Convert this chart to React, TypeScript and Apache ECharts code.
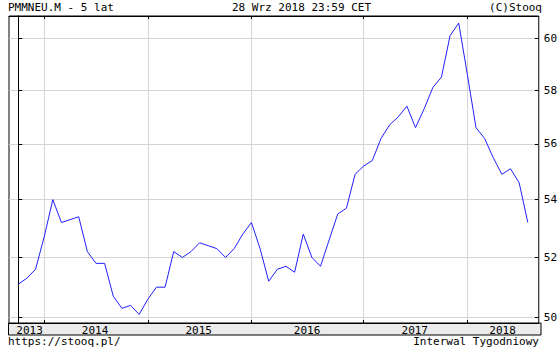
import React, { useEffect, useRef } from "react";
import * as echarts from "echarts";

// Monthly PMI values (one point per period, left to right)
const values = [
  51.1, 51.3, 51.6, 52.7, 54.0, 53.2, 53.3, 53.4, 52.2, 51.8,
  51.8, 50.7, 50.3, 50.4, 50.1, 50.6, 51.0, 51.0, 52.2, 52.0,
  52.2, 52.5, 52.4, 52.3, 52.0, 52.3, 52.8, 53.2, 52.3, 51.2,
  51.6, 51.7, 51.5, 52.8, 52.0, 51.7, 52.6, 53.5, 53.7, 54.9,
  55.2, 55.4, 56.2, 56.7, 57.0, 57.4, 56.6, 57.3, 58.1, 58.5,
  60.1, 60.6, 58.6, 56.6, 56.2, 55.5, 54.9, 55.1, 54.6, 53.2,
];

// Year boundaries (point index where each new year starts)
const yearTicks = [3, 15, 27, 40, 52];
// Year labels and their positions (in point-index units)
const yearLabels = ["2013", "2014", "2015", "2016", "2017", "2018"];
const yearLabelPos = [1.31, 8.9, 20.89, 33.44, 45.91, 56.08];

// Y tick labels (log scale)
const yTicks = [50, 52, 54, 56, 58, 60];

const FONT = "DejaVu Sans Mono";

export default function App() {
  const ref = useRef<HTMLDivElement>(null);
  useEffect(() => {
    if (!ref.current) return;
    const chart = echarts.init(ref.current, null, { renderer: "svg" });
    const xMin = -1.072;
    const xMax = 60.268;
    const yMax = Math.log(60) + 22.3 / 1531.4;
    const yMin = yMax - 307 / 1531.4;
    const lnTicks = yTicks.map((v) => Math.log(v));
    const fmtY = (v: number) => String(Math.round(Math.exp(v)));
    const fmtX = (v: number) => {
      let best = 0;
      let d = Infinity;
      yearLabelPos.forEach((p, i) => {
        if (Math.abs(p - v) < d) {
          d = Math.abs(p - v);
          best = i;
        }
      });
      return yearLabels[best];
    };
    const grey = "#d4d4d4";
    chart.setOption({
      animation: false,
      backgroundColor: "#ffffff",
      grid: {
        left: 9,
        top: 16,
        width: 532,
        height: 307,
        show: true,
        borderColor: "#000",
        borderWidth: 1,
        backgroundColor: "#fff",
      },
      graphic: [
        {
          type: "rect",
          z: -10,
          shape: { x: 8.5, y: 323, width: 532.5, height: 12 },
          style: { fill: "#ebebeb", stroke: "#000", lineWidth: 1 },
        },
        {
          type: "text",
          x: 8,
          y: 7.5,
          style: { text: "PMMNEU.M - 5 lat", font: `11px '${FONT}'`, fill: "#000", textAlign: "left", textVerticalAlign: "middle", align: "left", verticalAlign: "middle" },
        },
        {
          type: "text",
          x: 232,
          y: 7.5,
          style: { text: "28 Wrz 2018 23:59 CET", font: `11px '${FONT}'`, fill: "#000", textAlign: "left", textVerticalAlign: "middle", align: "left", verticalAlign: "middle" },
        },
        {
          type: "text",
          x: 542,
          y: 7.5,
          style: { text: "(C)Stooq", font: `11px '${FONT}'`, fill: "#000", textAlign: "right", textVerticalAlign: "middle", align: "right", verticalAlign: "middle" },
        },
        {
          type: "text",
          x: 8,
          y: 341.5,
          style: { text: "https://stooq.pl/", font: `11px '${FONT}'`, fill: "#000", textAlign: "left", textVerticalAlign: "middle", align: "left", verticalAlign: "middle" },
        },
        {
          type: "text",
          x: 539,
          y: 341.5,
          style: { text: "Interwal Tygodniowy", font: `11px '${FONT}'`, fill: "#000", textAlign: "right", textVerticalAlign: "middle", align: "right", verticalAlign: "middle" },
        },
      ],
      xAxis: [
        {
          type: "value",
          position: "bottom",
          min: xMin,
          max: xMax,
          axisLine: { show: true, lineStyle: { color: "#000", width: 1 } },
          axisTick: { show: true, inside: true, length: 3, customValues: yearTicks, lineStyle: { color: "#000" } },
          splitLine: { show: true, lineStyle: { color: grey, width: 1 } },
          axisLabel: {
            show: true,
            customValues: yearLabelPos,
            formatter: fmtX,
            margin: 7,
            verticalAlign: "middle",
            fontFamily: FONT,
            fontSize: 11,
            color: "#000",
          },
        },
        {
          type: "value",
          position: "top",
          min: xMin,
          max: xMax,
          axisLine: { show: true, lineStyle: { color: "#000", width: 1 } },
          axisTick: { show: true, inside: true, length: 3, customValues: yearTicks, lineStyle: { color: "#000" } },
          splitLine: { show: false },
          axisLabel: { show: false },
        },
      ],
      yAxis: [
        {
          type: "value",
          position: "right",
          min: yMin,
          max: yMax,
          axisLine: { show: true, lineStyle: { color: "#000", width: 1 } },
          axisTick: { show: true, inside: false, length: 4, customValues: lnTicks, lineStyle: { color: "#000" } },
          splitLine: { show: true, lineStyle: { color: grey, width: 1 } },
          axisLabel: {
            show: true,
            customValues: lnTicks,
            formatter: fmtY,
            margin: 5,
            fontFamily: FONT,
            fontSize: 11,
            color: "#000",
          },
        },
        {
          type: "value",
          position: "left",
          min: yMin,
          max: yMax,
          axisLine: { show: true, lineStyle: { color: "#000", width: 1 } },
          axisTick: { show: true, inside: true, length: 3, customValues: lnTicks, lineStyle: { color: "#000" } },
          splitLine: { show: false },
          axisLabel: { show: false },
        },
        {
          type: "value",
          position: "right",
          min: yMin,
          max: yMax,
          axisLine: { show: false },
          axisTick: { show: true, inside: true, length: 4, customValues: lnTicks, lineStyle: { color: "#000" } },
          splitLine: { show: false },
          axisLabel: { show: false },
        },
      ],
      series: [
        {
          type: "line",
          xAxisIndex: 0,
          yAxisIndex: 0,
          data: values.map((v, i) => [i, Math.log(v)]),
          showSymbol: false,
          symbol: "none",
          lineStyle: { color: "#2020ff", width: 1 },
          z: 5,
        },
      ],
    });
    return () => chart.dispose();
  }, []);
  return (
    <div
      ref={ref}
      style={{ position: "fixed", left: 0, top: 0, width: 560, height: 350, background: "#fff" }}
    />
  );
}
